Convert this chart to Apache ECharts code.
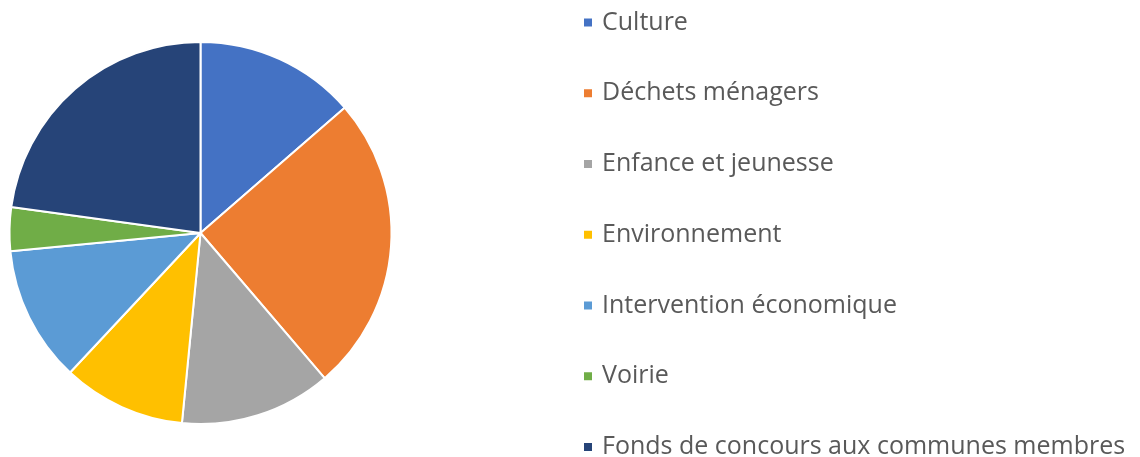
<!DOCTYPE html>
<html>
<head>
<meta charset="utf-8">
<script src="https://cdn.jsdelivr.net/npm/echarts@6/dist/echarts.min.js"></script>
<style>
html,body{margin:0;padding:0;background:#fff;}
#chart{width:1140px;height:457px;}
</style>
</head>
<body>
<div id="chart"></div>
<script>
const categories = ["Culture","Déchets ménagers","Enfance et jeunesse","Environnement","Intervention économique","Voirie","Fonds de concours aux communes membres"];
const values = [13.6, 25.1, 12.8, 10.4, 11.5, 3.7, 22.8];
const colors = ["#4472C4","#ED7D31","#A5A5A5","#FFC000","#5B9BD5","#70AD47","#264478"];

const chart = echarts.init(document.getElementById('chart'), null, {renderer:'canvas'});
chart.setOption({
  animation: false,
  color: colors,
  legend: {
    orient: 'vertical',
    left: 582,
    top: 10,
    height: 600,
    padding: 0,
    itemWidth: 10,
    itemHeight: 10,
    itemGap: 45.75,
    icon: 'rect',
    selectedMode: false,
    textStyle: {
      fontFamily: 'Open Sans',
      fontSize: 25,
      color: '#595959',
      padding: [0,0,0,4]
    },
    data: categories
  },
  series: [{
    type: 'pie',
    center: [200.5, 233],
    radius: [0, 191],
    startAngle: 90,
    clockwise: true,
    label: {show: false},
    labelLine: {show: false},
    itemStyle: {borderColor: '#fff', borderWidth: 2},
    emphasis: {disabled: true},
    data: categories.map((c,i)=>({name:c, value:values[i]}))
  }]
});
</script>
</body>
</html>
